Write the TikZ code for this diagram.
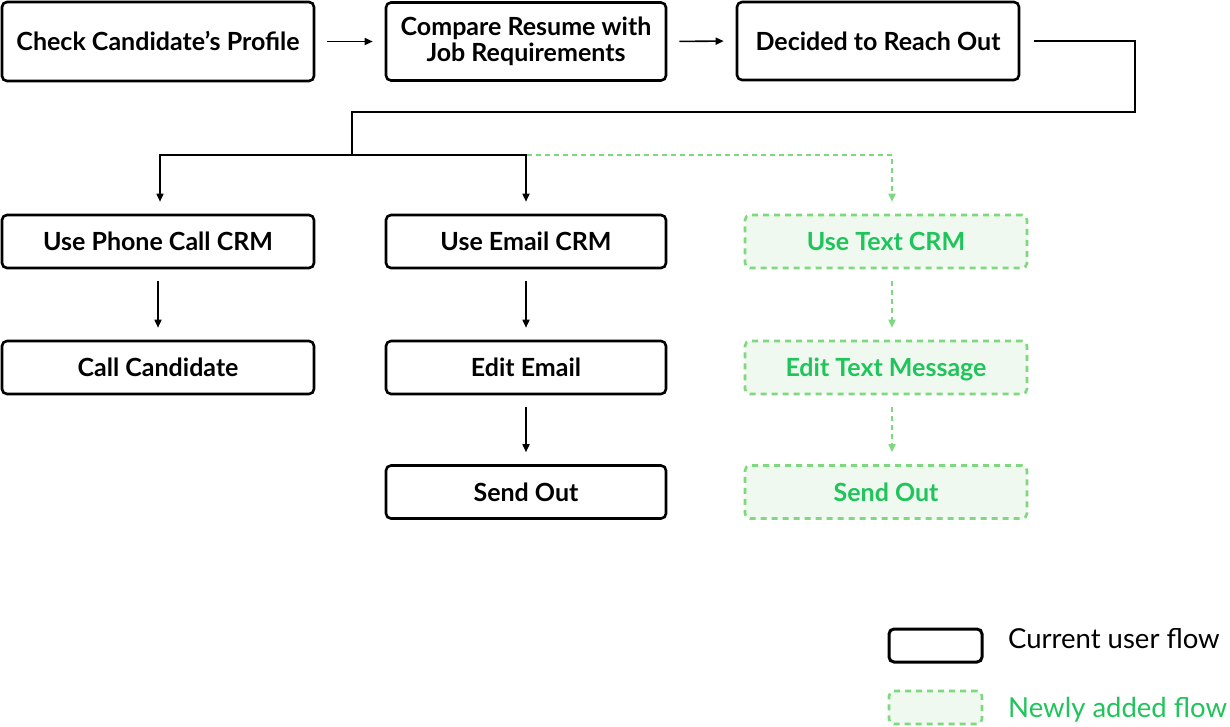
\documentclass[tikz,border=0pt]{standalone}
\usepackage{fontspec}
\setmainfont{Lato}
\usetikzlibrary{arrows.meta,calc}
\definecolor{gtext}{HTML}{1FC45A}
\definecolor{gline}{HTML}{7ED87E}
\definecolor{gfill}{HTML}{F0F9F0}
\tikzset{
  boxbase/.style={draw=black,line width=2.6pt,rounded corners=5pt,fill=white,
    font=\bfseries\fontsize{25}{26}\selectfont,align=center,inner sep=0pt},
  box/.style={boxbase,text height=18pt,text depth=0pt},
  gbox/.style={box,draw=gline,dash pattern=on 6pt off 5pt,fill=gfill,text=gtext},
  conn/.style={line width=1.6pt,draw=black},
  arr/.style={conn,-{Triangle[length=8pt,width=7pt]},shorten >=12pt,shorten <=12pt},
  gconn/.style={line width=1.6pt,draw=gline,dash pattern=on 5pt off 4pt},
  garr/.style={gconn,-{Triangle[length=8pt,width=7pt]},shorten >=12pt,shorten <=12pt},
  legtext/.style={anchor=base west,inner sep=0pt,font=\fontsize{27.5}{30}\selectfont},
}
\begin{document}
\begin{tikzpicture}[x=1pt,y=-1pt]
\useasboundingbox (0,0) rectangle (1230,726);
% row 1
\node[box,minimum width=312pt,minimum height=79pt] (b1) at (158,41.5) {Check Candidate’s Profile};
\node[boxbase,minimum width=280pt,minimum height=78pt] (b2) at (526,41.5) {Compare Resume with\\Job Requirements};
\node[box,minimum width=282pt,minimum height=78pt] (b3) at (878,41) {Decided to Reach Out};
% row 2
\node[box,minimum width=312pt,minimum height=53pt] (p1) at (158,241.5) {Use Phone Call CRM};
\node[box,minimum width=280pt,minimum height=53pt] (e1) at (526,241.5) {Use Email CRM};
\node[gbox,minimum width=282pt,minimum height=53pt] (t1) at (886,241.5) {Use Text CRM};
% row 3
\node[box,minimum width=312pt,minimum height=53pt] (p2) at (158,367.5) {Call Candidate};
\node[box,minimum width=280pt,minimum height=53pt] (e2) at (526,367.5) {Edit Email};
\node[gbox,minimum width=282pt,minimum height=53pt] (t2) at (886,367.5) {Edit Text Message};
% row 4
\node[box,minimum width=280pt,minimum height=53pt] (e3) at (526,492) {Send Out};
\node[gbox,minimum width=282pt,minimum height=53pt] (t3) at (886,492) {Send Out};
% legend
\node[box,line width=3pt,minimum width=93pt,minimum height=33pt] (lg1) at (935.5,645.5) {};
\node[gbox,minimum width=93pt,minimum height=33pt] (lg2) at (935.5,707.5) {};
\node[legtext] (lt1) at (1008,648) {Current user flow};
\node[legtext,text=gtext] (lt2) at (1008,717) {Newly added flow};
% connectors
\draw[arr] (b1.east) -- (b2.west);
\draw[arr] (b2.east) -- (b3.west);
\coordinate (turn) at (1135,112);
\coordinate (split) at (352,155);
\coordinate (ej) at (e1.north |- split);
\draw[conn] ([xshift=14pt]b3.east) -| (turn) -| (split);
\draw[conn,-{Triangle[length=8pt,width=7pt]},shorten >=12pt] (split) -| ([xshift=2pt]p1.north);
\draw[conn,-{Triangle[length=8pt,width=7pt]},shorten >=12pt] (split) -| (e1.north);
\draw[gconn,-{Triangle[length=8pt,width=7pt]},shorten >=12pt] ([xshift=1pt]ej) -| ([xshift=6pt]t1.north);
\draw[arr] (p1) -- (p2);
\draw[arr] (e1) -- (e2);
\draw[arr] (e2) -- (e3);
\draw[garr] ([xshift=6pt]t1.south) -- ([xshift=6pt]t2.north);
\draw[garr] ([xshift=6pt]t2.south) -- ([xshift=6pt]t3.north);
\end{tikzpicture}
\end{document}
